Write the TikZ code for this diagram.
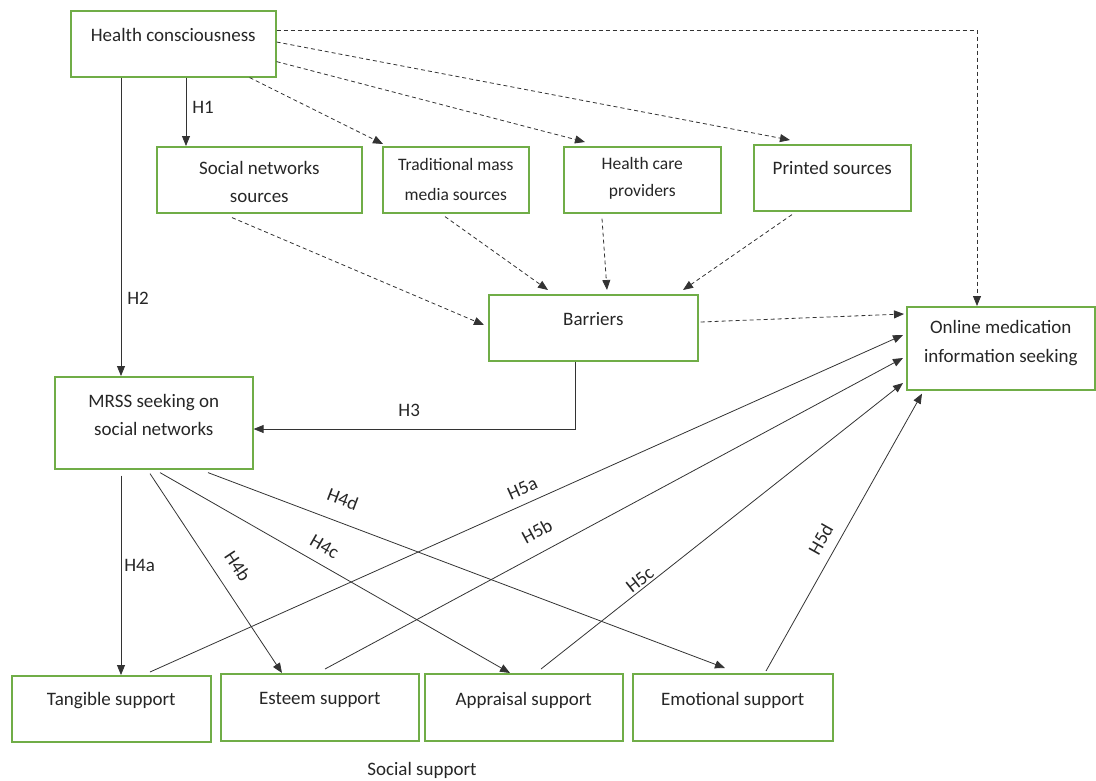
\documentclass[tikz,border=0pt]{standalone}
\usepackage{fontspec}
\setmainfont{Carlito}
\usetikzlibrary{
	arrows.meta,
	calc}
\definecolor{boxgreen}{HTML}{70AD47}
\definecolor{linegray}{HTML}{333333}
\definecolor{textgray}{HTML}{262626}

\begin{document}
\begin{tikzpicture}[x=1pt,y=-1pt,every text node part/.style={align=center},
	box/.style={draw=boxgreen,line width=1.6pt,inner sep=0pt,anchor=north west},
	txt/.style={inner sep=0pt,text=textgray,font=\fontsize{19}{28}\selectfont},
	smalltxt/.style={txt,font=\fontsize{17.5}{30}\selectfont},
	hyp/.style={inner sep=0pt,text=textgray,font=\fontsize{19}{22}\selectfont},
	link/.style={draw=linegray,line width=0.8pt,-{Triangle[length=10pt,width=8pt]}},
	dlink/.style={link,dash pattern=on 4pt off 3pt}]

		\useasboundingbox (0,0) rectangle (1096,780);

		% Boxes
		\node[box,minimum width=205pt,minimum height=66pt] (HC) at (70,10) {};
		\node[box,minimum width=205pt,minimum height=66pt] (SNS) at (156,146) {};
		\node[box,minimum width=146pt,minimum height=66pt] (Trad) at (382,146) {};
		\node[box,minimum width=157pt,minimum height=66pt] (HCP) at (563,146) {};
		\node[box,minimum width=157pt,minimum height=66pt] (Print) at (753,144) {};
		\node[box,minimum width=209pt,minimum height=66pt] (Bar) at (488,294) {};
		\node[box,minimum width=188pt,minimum height=83pt] (Online) at (906,306) {};
		\node[box,minimum width=198pt,minimum height=92pt] (MRSS) at (54,376) {};
		\node[box,minimum width=199pt,minimum height=66pt] (Tang) at (11,675) {};
		\node[box,minimum width=198pt,minimum height=67pt] (Est) at (220,673) {};
		\node[box,minimum width=198pt,minimum height=67pt] (App) at (424,673) {};
		\node[box,minimum width=200pt,minimum height=67pt] (Emo) at (632,673) {};

		% Box texts
		\node[txt] (HC-t) at ([yshift=-25pt]HC.north) {Health consciousness};
		\node[txt] (SNS-t) at ([yshift=-36pt]SNS.north) {Social networks\\sources};
		\node[smalltxt] (Trad-t) at ([yshift=-33pt]Trad.north) {Traditional mass\\media sources};
		\node[smalltxt,font=\fontsize{17.5}{27}\selectfont] (HCP-t) at ([yshift=-32pt]HCP.north) {Health care\\providers};
		\node[txt] (Print-t) at ([yshift=-24pt]Print.north) {Printed sources};
		\node[txt] (Bar-t) at ([yshift=-25pt]Bar.north) {Barriers};
		\node[txt,font=\fontsize{19}{29}\selectfont] (Online-t) at ([yshift=-37pt]Online.north) {Online medication\\information seeking};
		\node[txt] (MRSS-t) at ([yshift=-39pt]MRSS.north) {MRSS seeking on\\social networks};
		\node[txt] (Tang-t) at ([yshift=-26pt]Tang.north) {Tangible support};
		\node[txt] (Est-t) at ([yshift=-27pt]Est.north) {Esteem support};
		\node[txt] (App-t) at ([yshift=-27pt]App.north) {Appraisal support};
		\node[txt] (Emo-t) at ([yshift=-27pt]Emo.north) {Emotional support};
		\node[txt] (SocSup) at (422,770) {Social support};

		% Health consciousness
		\draw[link] ([xshift=116pt]HC.south west) to node[hyp,pos=0.44,right=6pt] (H1) {H1} ([xshift=30pt]SNS.north west);
		\draw[link] ([xshift=51pt]HC.south west) to node[hyp,pos=0.74,right=6pt] (H2) {H2} ([xshift=67pt]MRSS.north west);
		\draw[dlink] ([xshift=-27pt]HC.south east) to ([xshift=1pt,yshift=2pt]Trad.north west);
		\draw[dlink] ([yshift=16pt]HC.south east) to ([xshift=22pt,yshift=4pt]HCP.north west);
		\draw[dlink] ([yshift=-32pt]HC.north east) to ([xshift=37pt,yshift=4pt]Print.north west);
		\draw[dlink] ([yshift=-20pt]HC.north east) -| ([xshift=71pt]Online.north west);

		% Sources to barriers
		\draw[dlink] ([xshift=76pt,yshift=-4pt]SNS.south west) to ([xshift=-4pt,yshift=-31pt]Bar.north west);
		\draw[dlink] ([xshift=63pt,yshift=-3pt]Trad.south west) to ([xshift=60pt,yshift=4pt]Bar.north west);
		\draw[dlink] ([xshift=39pt,yshift=-5pt]HCP.south west) to ([xshift=119pt,yshift=4pt]Bar.north west);
		\draw[dlink] ([xshift=39pt,yshift=-3pt]Print.south west) to ([xshift=195pt,yshift=4pt]Bar.north west);
		\draw[dlink] ([xshift=2pt,yshift=-28pt]Bar.north east) to ([xshift=-2pt,yshift=-8pt]Online.north west);
		\draw[link] ([xshift=87pt]Bar.south west) |- node[hyp,pos=0.758,above=12pt] (H3) {H3} ([yshift=-53pt]MRSS.north east);

		% MRSS to social support
		\draw[link] ([xshift=67pt,yshift=-6pt]MRSS.south west) to node[hyp,pos=0.45,right=3pt] (H4a) {H4a} ([xshift=110pt]Tang.north west);
		\draw[link] ([xshift=96pt,yshift=-4pt]MRSS.south west) to node[hyp,pos=0.526,sloped,above=15pt] (H4b) {H4b} ([xshift=62pt]Est.north west);
		\draw[link] ([xshift=106pt,yshift=-3pt]MRSS.south west) to node[hyp,pos=0.445,sloped,above=11pt] (H4c) {H4c} ([xshift=86pt]App.north west);
		\draw[link] ([xshift=154pt,yshift=-3pt]MRSS.south west) to node[hyp,pos=0.245,sloped,above=16pt] (H4d) {H4d} ([xshift=93pt,yshift=5pt]Emo.north west);

		% Social support to online seeking
		\draw[link] ([xshift=139pt,yshift=3pt]Tang.north west) to node[hyp,pos=0.503,sloped,above=9pt] (H5a) {H5a} ([xshift=-3pt,yshift=-29pt]Online.north west);
		\draw[link] ([xshift=105pt,yshift=4pt]Est.north west) to node[hyp,pos=0.384,sloped,above=14pt] (H5b) {H5b} ([xshift=-3pt,yshift=-52pt]Online.north west);
		\draw[link] ([xshift=117pt,yshift=4pt]App.north west) to node[hyp,pos=0.288,sloped,above=2pt] (H5c) {H5c} ([xshift=-3pt,yshift=-77pt]Online.north west);
		\draw[link] ([xshift=134pt,yshift=2pt]Emo.north west) to node[hyp,pos=0.445,sloped,above=10pt] (H5d) {H5d} ([xshift=16pt,yshift=-3pt]Online.south west);

	\end{tikzpicture}
\end{document}
